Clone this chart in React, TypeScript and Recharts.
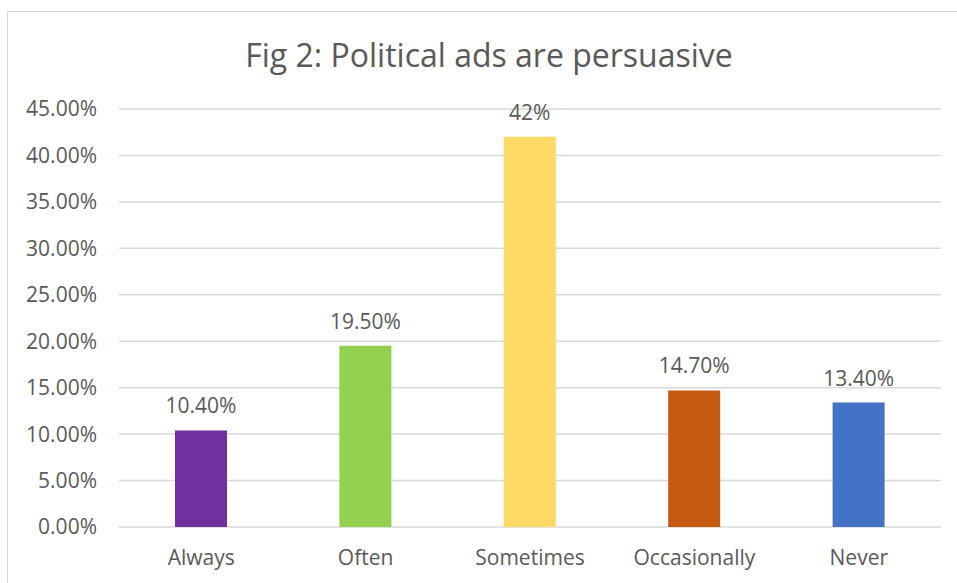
import { BarChart, Bar, XAxis, YAxis, CartesianGrid, Cell, LabelList } from 'recharts'

const categories = ['Always', 'Often', 'Sometimes', 'Occasionally', 'Never']
const values = [0.104, 0.195, 0.42, 0.147, 0.134]
const valueLabels = ['10.40%', '19.50%', '42%', '14.70%', '13.40%']
const barColors = ['#7030A0', '#92D050', '#FFD966', '#C55A11', '#4472C4']
const yTicks = [0, 0.05, 0.1, 0.15, 0.2, 0.25, 0.3, 0.35, 0.4, 0.45]

const data = categories.map((name, i) => ({
  name,
  value: values[i],
  label: valueLabels[i],
}))

const FONT = '"Open Sans", "Liberation Sans", sans-serif'
const TEXT = '#595959'

export default function App() {
  return (
    <div style={{ position: 'absolute', left: 0, top: 0, width: 957, height: 583, overflow: 'hidden', background: '#fff' }}>
      <div
        style={{
          position: 'absolute',
          left: 7,
          top: 11,
          width: 970,
          height: 600,
          border: '1px solid #D9D9D9',
          boxSizing: 'border-box',
        }}
      />
      <div
        style={{
          position: 'absolute',
          left: 0,
          top: 33,
          width: 978,
          textAlign: 'center',
          fontFamily: FONT,
          fontSize: 32,
          color: TEXT,
          lineHeight: '44px',
        }}
      >
        Fig 2: Political ads are persuasive
      </div>
      <div style={{ position: 'absolute', left: 0, top: 0 }}>
        <BarChart width={957} height={583} data={data} margin={{ top: 109, right: 16, bottom: 16, left: 19 }}>
          <CartesianGrid vertical={false} stroke="#D9D9D9" strokeWidth={1.5} />
          <XAxis
            dataKey="name"
            axisLine={false}
            tickLine={false}
            height={40}
            tickSize={0}
            tickMargin={23}
            tick={{ fill: TEXT, fontSize: 21, fontFamily: FONT }}
          />
          <YAxis
            domain={[0, 0.45]}
            ticks={yTicks}
            width={100}
            axisLine={false}
            tickLine={false}
            tickSize={0}
            tickMargin={22}
            tickFormatter={(v: number) => (v * 100).toFixed(2) + '%'}
            tick={{ fill: TEXT, fontSize: 21, fontFamily: FONT }}
          />
          <Bar dataKey="value" barSize={52} isAnimationActive={false}>
            {data.map((d, i) => (
              <Cell key={d.name} fill={barColors[i]} />
            ))}
            <LabelList dataKey="label" position="top" offset={17} fill={TEXT} fontSize={21} fontFamily={FONT} />
          </Bar>
        </BarChart>
      </div>
    </div>
  )
}
